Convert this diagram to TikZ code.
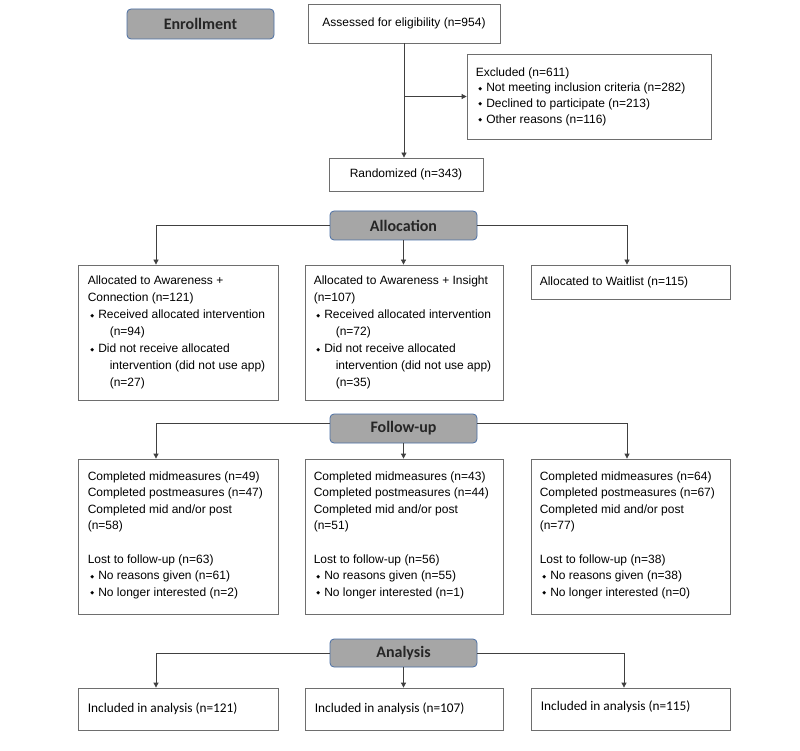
\documentclass[tikz,border=0pt]{standalone}
\usepackage{fontspec}
\setmainfont{Liberation Sans}
\newfontfamily\carlito{Carlito}
\newfontfamily\dejavu{DejaVu Sans}
\usetikzlibrary{arrows.meta}
\definecolor{labfill}{HTML}{A6A6A6}
\definecolor{labdraw}{HTML}{4A6FA5}
\definecolor{boxdraw}{HTML}{6E6E6E}
\definecolor{linecol}{HTML}{404040}
\newcommand\bul{\hspace*{2.5pt}\makebox[8pt][l]{\raisebox{1.5pt}{\fontsize{5}{5}\selectfont\dejavu ◆}}}
\newcommand\ind{\hspace*{22pt}}
\begin{document}
\begin{tikzpicture}[x=1pt,y=-1pt,
  lab/.style={draw=labdraw, fill=labfill, rounded corners=4pt, line width=0.8pt,
    font=\carlito\bfseries\fontsize{16}{18}\selectfont, text=black!85,
    minimum width=147pt, minimum height=29pt, inner sep=0pt},
  box/.style={draw=boxdraw, line width=0.8pt, inner sep=0pt},
  txt/.style={inner sep=0pt, align=left, anchor=west, font=\fontsize{12}{17}\selectfont},
  cbox/.style={draw=boxdraw, line width=0.8pt, inner sep=0pt, align=center,
    font=\fontsize{12}{14}\selectfont},
  atxt/.style={inner sep=0pt, anchor=west, font=\carlito\fontsize{13.3}{15}\selectfont},
  conn/.style={draw=linecol, line width=0.8pt},
  arr/.style={conn, -{Triangle[length=5pt,width=5pt]}}]
\fill[white] (0,0) rectangle (800,751);
\useasboundingbox (0,0) rectangle (800,751);

% enrollment
\node[lab, minimum height=30pt] (enroll) at (200.5,24) {Enrollment};
\node[cbox, minimum width=192pt, minimum height=39pt] (assess) at (404,23.5) {Assessed for eligibility (n=954)};
\node[box, minimum width=244pt, minimum height=85pt] (excl) at (589,96.5) {};
\node[txt, font=\fontsize{12}{15.7}\selectfont] (exclt) at ([xshift=9pt]excl.west)
 {Excluded (n=611)\\
  \bul Not meeting inclusion criteria (n=282)\\
  \bul Declined to participate (n=213)\\
  \bul Other reasons (n=116)};
\node[cbox, minimum width=154pt, minimum height=33pt] (rand) at (406,174.5) {Randomized (n=343)};

% allocation
\node[lab] (alloc) at (403.5,225.5) {Allocation};
\node[box, minimum width=200pt, minimum height=135pt] (A1) at (178,332.5) {};
\node[txt] (A1t) at ([xshift=10pt]A1.west)
 {Allocated to Awareness +\\
  Connection (n=121)\\
  \bul Received allocated intervention\\
  \ind(n=94)\\
  \bul Did not receive allocated\\
  \ind intervention (did not use app)\\
  \ind(n=27)};
\node[box, minimum width=198pt, minimum height=135pt] (A2) at (404,332.5) {};
\node[txt] (A2t) at ([xshift=9pt]A2.west)
 {Allocated to Awareness + Insight\\
  (n=107)\\
  \bul Received allocated intervention\\
  \ind(n=72)\\
  \bul Did not receive allocated\\
  \ind intervention (did not use app)\\
  \ind(n=35)};
\node[box, minimum width=199pt, minimum height=34pt] (A3) at (630.5,282) {};
\node[txt] (A3t) at ([xshift=9pt]A3.west) {Allocated to Waitlist (n=115)};

% follow-up
\node[lab] (fu) at (403.5,428.5) {Follow-up};
\node[box, minimum width=200pt, minimum height=155pt] (F1) at (178,536.5) {};
\node[txt, font=\fontsize{12}{16.6}\selectfont] (F1t) at ([xshift=10pt,yshift=1.5pt]F1.west)
 {Completed midmeasures (n=49)\\
  Completed postmeasures (n=47)\\
  Completed mid and/or post\\
  (n=58)\\[16.6pt]
  Lost to follow-up (n=63)\\
  \bul No reasons given (n=61)\\
  \bul No longer interested (n=2)};
\node[box, minimum width=198pt, minimum height=155pt] (F2) at (404,536.5) {};
\node[txt, font=\fontsize{12}{16.6}\selectfont] (F2t) at ([xshift=9pt,yshift=1.5pt]F2.west)
 {Completed midmeasures (n=43)\\
  Completed postmeasures (n=44)\\
  Completed mid and/or post\\
  (n=51)\\[16.6pt]
  Lost to follow-up (n=56)\\
  \bul No reasons given (n=55)\\
  \bul No longer interested (n=1)};
\node[box, minimum width=199pt, minimum height=155pt] (F3) at (630.5,536.5) {};
\node[txt, font=\fontsize{12}{16.6}\selectfont] (F3t) at ([xshift=9pt,yshift=1.5pt]F3.west)
 {Completed midmeasures (n=64)\\
  Completed postmeasures (n=67)\\
  Completed mid and/or post\\
  (n=77)\\[16.6pt]
  Lost to follow-up (n=38)\\
  \bul No reasons given (n=38)\\
  \bul No longer interested (n=0)};

% analysis
\node[lab, minimum height=28pt] (ana) at (403.5,653) {Analysis};
\node[box, minimum width=200pt, minimum height=42pt] (B1) at (178,709) {};
\node[atxt] (B1t) at ([xshift=10pt]B1.west) {Included in analysis (n=121)};
\node[box, minimum width=198pt, minimum height=42pt] (B2) at (404,709) {};
\node[atxt] (B2t) at ([xshift=10pt]B2.west) {Included in analysis (n=107)};
\node[box, minimum width=199pt, minimum height=42pt] (B3) at (630.5,709) {};
\node[atxt] (B3t) at ([xshift=10pt,yshift=2pt]B3.west) {Included in analysis (n=115)};

% connectors
\draw[arr] (assess.south) -- (assess.south |- rand.north);
\coordinate (j1) at (assess.south |- excl.west);
\draw[arr] (j1) -- (excl.west);
\draw[arr] (alloc.west) -| ([xshift=-22pt]A1.north);
\draw[arr] (alloc.south) -- (alloc.south |- A2.north);
\draw[arr] (alloc.east) -| ([xshift=-3.5pt]A3.north);
\draw[arr] ([yshift=5pt]fu.west) -| ([xshift=-22pt]F1.north);
\draw[arr] (fu.south) -- (fu.south |- F2.north);
\draw[arr] ([yshift=5pt]fu.east) -| ([xshift=-3.5pt]F3.north);
\draw[arr] (ana.west) -| ([xshift=-22pt]B1.north);
\draw[arr] (ana.south) -- (ana.south |- B2.north);
\draw[arr] (ana.east) -| ([xshift=-6.5pt]B3.north);
\end{tikzpicture}
\end{document}
